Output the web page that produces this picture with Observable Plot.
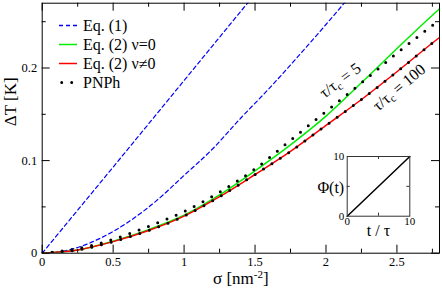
<!DOCTYPE html>
<html><head><meta charset="utf-8">
<script src="https://cdn.jsdelivr.net/npm/d3@7"></script>
<script src="https://cdn.jsdelivr.net/npm/@observablehq/plot@0.6"></script>
<style>
body{margin:0;background:#fff;font-family:'Liberation Serif',serif;}
#wrap{position:relative;width:442px;height:290px;}
svg text, svg tspan{font-family:'Liberation Serif','Times New Roman',serif !important;}
</style></head><body><div id="wrap"></div>
<script>
// ---- data ----
const sigmaEq1a = [0, 0.5, 1.0, 1.5];
const dTEq1a    = [0, 0.093, 0.1865, 0.280];
const sigmaEq1b = [0, 0.2, 0.4, 0.6, 0.8, 1.0, 1.2, 1.4, 1.6, 1.8, 2.0, 2.2];
const dTEq1b    = [0, 0.004, 0.0155, 0.033, 0.056, 0.084, 0.1125, 0.146, 0.178, 0.212, 0.247, 0.283];
const sigmaEq2  = [0, 0.25, 0.5, 0.75, 1.0, 1.25, 1.5, 1.75, 2.0, 2.25, 2.5, 2.75, 2.8];
const dTEq2nu0  = [0, 0.0035, 0.013, 0.0255, 0.041, 0.063, 0.089, 0.117, 0.148, 0.184, 0.221, 0.257, 0.264];
const dTEq2nu   = [0, 0.0035, 0.0125, 0.0245, 0.040, 0.061, 0.085, 0.110, 0.138, 0.166, 0.196, 0.227, 0.233];
const dTPNPh5   = [0, 0.005, 0.015, 0.029, 0.045, 0.066, 0.091, 0.122, 0.153, 0.184, 0.216, 0.246, 0.252];
const dTPNPh100 = [0, 0.0035, 0.0125, 0.0245, 0.040, 0.061, 0.085, 0.110, 0.138, 0.166, 0.196, 0.227, 0.233];

const xMajor = [0, 0.5, 1, 1.5, 2, 2.5];
const xTickLabels = ["0", "0.5", "1", "1.5", "2", "2.5"];
const xMinor = [0.25, 0.75, 1.25, 1.75, 2.25, 2.75];
const yMajor = [0, 0.1, 0.2];
const yTickLabels = ["0", "0.1", "0.2"];
const yMinor = [0.05, 0.15, 0.25];

const legendLabels = ["Eq. (1)", "Eq. (2) ν=0", "Eq. (2) ν≠0", "PNPh"];
const annotations = ["τ/τc = 5", "τ/τc = 100"];

const insetT   = [0, 10];
const insetPhi = [0, 10];
const insetTicks = [0, 10];
const insetMid = [5];

// ---- build tables ----
const tab = (xs, ys) => xs.map((x, i) => ({sigma: x, dT: ys[i]}));
const eq1a = tab(sigmaEq1a, dTEq1a);
const eq1b = tab(sigmaEq1b, dTEq1b);
const eq2a = tab(sigmaEq2, dTEq2nu0);
const eq2b = tab(sigmaEq2, dTEq2nu);
const pn5 = tab(sigmaEq2, dTPNPh5);
const pn100 = tab(sigmaEq2, dTPNPh100);
const xLab = new Map(xMajor.map((d, i) => [d, xTickLabels[i]]));
const yLab = new Map(yMajor.map((d, i) => [d, yTickLabels[i]]));

const FONT = "'Liberation Serif', 'Times New Roman', serif";
const W = 442, H = 290, mL = 41.7, mR = 3, mT = 2.7, mB = 37.3;
const pW = W - mL - mR, pH = H - mT - mB;

const main = Plot.plot({
  width: W, height: H, marginLeft: mL, marginRight: mR, marginTop: mT, marginBottom: mB,
  style: {background: "transparent", color: "#000"},
  x: {domain: [0, 2.8]},
  y: {domain: [0, 0.27]},
  marks: [
    Plot.line(eq1a, {x: "sigma", y: "dT", stroke: "#0000ff", strokeWidth: 1.2, strokeDasharray: "4,3", clip: true}),
    Plot.line(eq1b, {x: "sigma", y: "dT", stroke: "#0000ff", strokeWidth: 1.2, strokeDasharray: "4,3", curve: "monotone-x", clip: true}),
    Plot.line(eq2a, {x: "sigma", y: "dT", stroke: "#00ee00", strokeWidth: 1.5, curve: "monotone-x", clip: true}),
    Plot.line(eq2b, {x: "sigma", y: "dT", stroke: "#ff0000", strokeWidth: 1.5, curve: "monotone-x", clip: true}),
    Plot.line(pn5, {x: "sigma", y: "dT", stroke: "#000", strokeWidth: 3, strokeDasharray: "0,10", strokeLinecap: "round", curve: "monotone-x", clip: true}),
    Plot.line(pn100, {x: "sigma", y: "dT", stroke: "#000", strokeWidth: 3, strokeDasharray: "0,10", strokeLinecap: "round", curve: "monotone-x", clip: true}),
    Plot.ruleX(xMajor, {x: d => d, insetTop: pH - 8, stroke: "#000"}),
    Plot.ruleX(xMajor, {x: d => d, insetBottom: pH - 8, stroke: "#000"}),
    Plot.ruleX(xMinor, {x: d => d, insetTop: pH - 4, stroke: "#000"}),
    Plot.ruleX(xMinor, {x: d => d, insetBottom: pH - 4, stroke: "#000"}),
    Plot.ruleY(yMajor, {y: d => d, insetRight: pW - 8, stroke: "#000"}),
    Plot.ruleY(yMajor, {y: d => d, insetLeft: pW - 8, stroke: "#000"}),
    Plot.ruleY(yMinor, {y: d => d, insetRight: pW - 4, stroke: "#000"}),
    Plot.ruleY(yMinor, {y: d => d, insetLeft: pW - 4, stroke: "#000"}),
    Plot.frame({stroke: "#000"}),
    Plot.axisX(xMajor, {tickSize: 0, tickPadding: 4, tickFormat: d => xLab.get(d), label: null, fontSize: 12.5}),
    Plot.axisY(yMajor, {tickSize: 0, tickPadding: 5, tickFormat: d => yLab.get(d), label: null, fontSize: 12.5}),
    Plot.text(["σ [nm-2]"], {frameAnchor: "bottom", dy: 25, fontSize: 17, lineAnchor: "middle"}),
    Plot.text(["ΔT [K]"], {frameAnchor: "left", dx: -32, dy: -2, rotate: -90, fontSize: 17, lineAnchor: "middle"}),
    Plot.text([{sigma: 2.10, dT: 0.1865, label: annotations[0]}], {x: "sigma", y: "dT", text: "label", rotate: -37, fontSize: 16}),
    Plot.text([{sigma: 2.515, dT: 0.179, label: annotations[1]}], {x: "sigma", y: "dT", text: "label", rotate: -40, fontSize: 16})
  ]
});

function rich(svg, plain, html) {
  svg.querySelectorAll("text").forEach(t => { if (t.textContent === plain) t.innerHTML = html; });
}
rich(main, "σ [nm-2]", 'σ [nm<tspan dy="-6" font-size="11">-2</tspan><tspan dy="6">]</tspan>');
rich(main, annotations[0], 'τ/τ<tspan dy="3" font-size="11">c</tspan><tspan dy="-3"> = 5</tspan>');
rich(main, annotations[1], 'τ/τ<tspan dy="3" font-size="11">c</tspan><tspan dy="-3"> = 100</tspan>');

// legend
const leg = d3.select(main).append("g");
const legY = [25.5, 44.5, 63.5, 82.5];
const legStyles = [
  {stroke: "#0000ff", w: 1.4, dash: "4,3", cap: "butt"},
  {stroke: "#00ee00", w: 1.5, dash: null, cap: "butt"},
  {stroke: "#ff0000", w: 1.5, dash: null, cap: "butt"},
  {stroke: "#000", w: 3, dash: "0,10", cap: "round"}
];
legendLabels.forEach((lab, i) => {
  const s = legStyles[i];
  const y = legY[i];
  const x1 = i === 3 ? 61.7 : 59, x2 = i === 3 ? 72 : 77;
  const l = leg.append("line").attr("x1", x1).attr("x2", x2).attr("y1", y).attr("y2", y)
    .attr("stroke", s.stroke).attr("stroke-width", s.w).attr("stroke-linecap", s.cap);
  if (s.dash) l.attr("stroke-dasharray", s.dash);
  leg.append("text").attr("x", 83).attr("y", y).attr("dy", "0.33em")
    .attr("text-anchor", "start").attr("font-size", 16).text(lab);
});

// inset
const iL = 46.7, iR = 10.7, iT = 11, iB = 24.3, iW = 120, iH = 95;
const ipW = iW - iL - iR, ipH = iH - iT - iB;
const inset = Plot.plot({
  width: iW, height: iH, marginLeft: iL, marginRight: iR, marginTop: iT, marginBottom: iB,
  style: {background: "transparent", color: "#000", overflow: "visible"},
  x: {domain: [0, 10]}, y: {domain: [0, 10]},
  marks: [
    Plot.line(insetT.map((t, i) => ({t, phi: insetPhi[i]})), {x: "t", y: "phi", stroke: "#000", strokeWidth: 1.5}),
    Plot.ruleX(insetMid, {x: d => d, insetTop: ipH - 3, stroke: "#333"}),
    Plot.ruleX(insetMid, {x: d => d, insetBottom: ipH - 3, stroke: "#333"}),
    Plot.ruleY(insetMid, {y: d => d, insetRight: ipW - 3, stroke: "#333"}),
    Plot.ruleY(insetMid, {y: d => d, insetLeft: ipW - 3, stroke: "#333"}),
    Plot.frame({stroke: "#333"}),
    Plot.axisX(insetTicks, {tickSize: 0, tickPadding: 1, label: null, fontSize: 11}),
    Plot.axisY(insetTicks, {tickSize: 0, tickPadding: 3, label: null, fontSize: 11}),
    Plot.text(["Φ(t)"], {frameAnchor: "left", dx: -3, dy: 2, textAnchor: "end", fontSize: 16}),
    Plot.text(["t / τ"], {frameAnchor: "bottom", dy: 15, fontSize: 16, lineAnchor: "middle"})
  ]
});
for (const svg of [main, inset]) {
  svg.setAttribute("font-family", FONT);
  svg.querySelectorAll("text").forEach(el => { el.setAttribute("font-family", FONT); });
}
main.style.position = "absolute"; main.style.left = "0px"; main.style.top = "0px";
inset.style.position = "absolute"; inset.style.left = "300px"; inset.style.top = "145px";
const wrap = document.getElementById("wrap");
wrap.appendChild(main);
wrap.appendChild(inset);
</script></body></html>
